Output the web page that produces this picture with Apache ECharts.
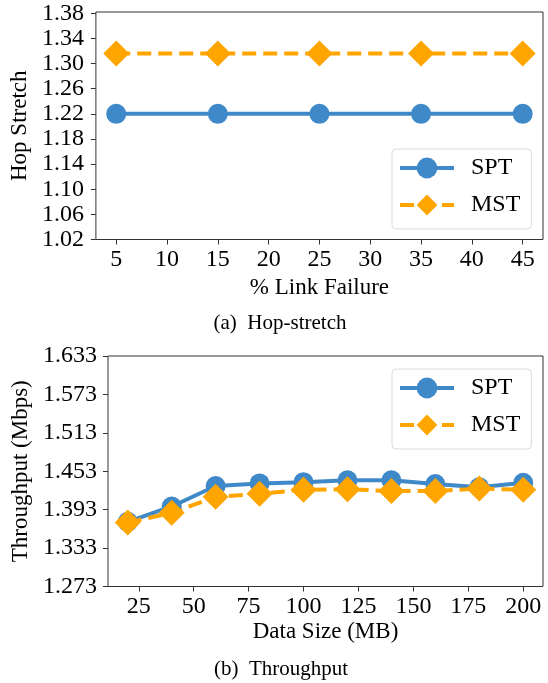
<!DOCTYPE html>
<html>
<head>
<meta charset="utf-8">
<title>Hop-stretch and Throughput</title>
<script src="https://cdn.jsdelivr.net/npm/echarts@6/dist/echarts.min.js"></script>
<style>
  html, body { margin: 0; padding: 0; background: #fff; }
  #chart { width: 548px; height: 683px; }
</style>
</head>
<body>
<div id="chart"></div>
<script>
// (a) Hop stretch vs. link failure
const failureLevels = [5, 15, 25, 35, 45];
const hopStretchSPT = [1.220, 1.220, 1.220, 1.220, 1.220];
const hopStretchMST = [1.316, 1.316, 1.316, 1.316, 1.316];
const hopTicksX = [5, 10, 15, 20, 25, 30, 35, 40, 45];
const hopTicksY = [1.02, 1.06, 1.10, 1.14, 1.18, 1.22, 1.26, 1.30, 1.34, 1.38];

// (b) Throughput vs. data size
const dataSizes = [20, 40, 60, 80, 100, 120, 140, 160, 180, 200];
const throughputSPT = [1.374, 1.398, 1.430, 1.434, 1.436, 1.439, 1.439, 1.433, 1.428, 1.435];
const throughputMST = [1.373, 1.388, 1.413, 1.418, 1.424, 1.425, 1.422, 1.422, 1.426, 1.424];
const thrTicksX = [25, 50, 75, 100, 125, 150, 175, 200];
const thrTicksY = [1.273, 1.333, 1.393, 1.453, 1.513, 1.573, 1.633];

const seriesNames = ['SPT', 'MST'];
const BLUE = '#3f89c9';
const ORANGE = '#ffa500';
const FONT = '"Liberation Serif", "DejaVu Serif", serif';
const AXIS_COLOR = '#333';

function pairs(xs, ys) { return xs.map((x, i) => [x, ys[i]]); }

function xAxisCfg(gridIndex, min, max, ticks, name, gap) {
  return {
    type: 'value', gridIndex, min, max, name,
    nameLocation: 'middle', nameGap: gap,
    nameTextStyle: { fontFamily: FONT, fontSize: 23, color: '#000' },
    axisLine: { show: false },
    axisTick: { show: true, inside: false, length: 5, customValues: ticks,
                lineStyle: { color: AXIS_COLOR, width: 1 } },
    axisLabel: { customValues: ticks, margin: 8, fontFamily: FONT, fontSize: 24, color: '#000' },
    splitLine: { show: false }
  };
}

function yAxisCfg(gridIndex, min, max, ticks, digits, name, gap, margin) {
  return {
    type: 'value', gridIndex, min, max, name,
    nameLocation: 'middle', nameGap: gap, nameRotate: 90,
    nameTextStyle: { fontFamily: FONT, fontSize: 23, color: '#000' },
    axisLine: { show: false },
    axisTick: { show: true, inside: false, length: 5, customValues: ticks,
                lineStyle: { color: AXIS_COLOR, width: 1 } },
    axisLabel: { customValues: ticks, margin, fontFamily: FONT, fontSize: 24, color: '#000',
                 formatter: v => Number(v).toFixed(digits) },
    splitLine: { show: false }
  };
}

function lineSeries(name, idx, data, color, symbol, size, dashed) {
  return {
    name, type: 'line', xAxisIndex: idx, yAxisIndex: idx, data,
    symbol, symbolSize: size, showAllSymbol: true,
    lineStyle: { color, width: 4, type: dashed ? [14, 7] : 'solid' },
    itemStyle: { color, borderWidth: 0 },
    emphasis: { disabled: true },
    animation: false
  };
}

function legendCfg(top) {
  return {
    orient: 'vertical', left: 392, top,
    data: seriesNames,
    itemWidth: 54, itemHeight: 26, itemGap: 11,
    padding: [6, 11, 11, 6],
    lineStyle: { width: 4 },
    textStyle: { fontFamily: FONT, fontSize: 24, color: '#000', padding: [0, 0, 0, 12], lineHeight: 26 },
    backgroundColor: '#fff',
    borderColor: '#dcdcdc', borderWidth: 1, borderRadius: 4,
    selectedMode: false
  };
}

const chart = echarts.init(document.getElementById('chart'), null, { renderer: 'canvas' });

chart.setOption({
  backgroundColor: '#fff',
  animation: false,
  grid: [
    { left: 94, right: 5, top: 12, height: 227.5, show: true, borderColor: AXIS_COLOR, borderWidth: 1, backgroundColor: 'transparent' },
    { left: 108, right: 5, top: 356, height: 230.5, show: true, borderColor: AXIS_COLOR, borderWidth: 1, backgroundColor: 'transparent' }
  ],
  xAxis: [
    xAxisCfg(0, 3, 47, hopTicksX, '% Link Failure', 37),
    xAxisCfg(1, 11, 209, thrTicksX, 'Data Size (MB)', 34)
  ],
  yAxis: [
    yAxisCfg(0, 1.02, 1.382, hopTicksY, 2, 'Hop Stretch', 58, 12),
    yAxisCfg(1, 1.273, 1.633, thrTicksY, 3, 'Throughput (Mbps)', 70, 11)
  ],
  legend: [
    Object.assign(legendCfg(149), { id: 'legendHop' }),
    Object.assign(legendCfg(369), { id: 'legendThr' })
  ],
  series: [
    lineSeries('SPT', 0, pairs(failureLevels, hopStretchSPT), BLUE, 'circle', 20, false),
    lineSeries('MST', 0, pairs(failureLevels, hopStretchMST), ORANGE, 'diamond', 26, true),
    lineSeries('SPT', 1, pairs(dataSizes, throughputSPT), BLUE, 'circle', 20, false),
    lineSeries('MST', 1, pairs(dataSizes, throughputMST), ORANGE, 'diamond', 26, true)
  ],
  graphic: [
    { type: 'text', x: 280, y: 323,
      style: { text: '(a)  Hop-stretch', font: '21px ' + FONT, fill: '#000',
               align: 'center', verticalAlign: 'middle', textAlign: 'center', textVerticalAlign: 'middle' } },
    { type: 'text', x: 281, y: 669,
      style: { text: '(b)  Throughput', font: '21px ' + FONT, fill: '#000',
               align: 'center', verticalAlign: 'middle', textAlign: 'center', textVerticalAlign: 'middle' } }
  ]
});
</script>
</body>
</html>
